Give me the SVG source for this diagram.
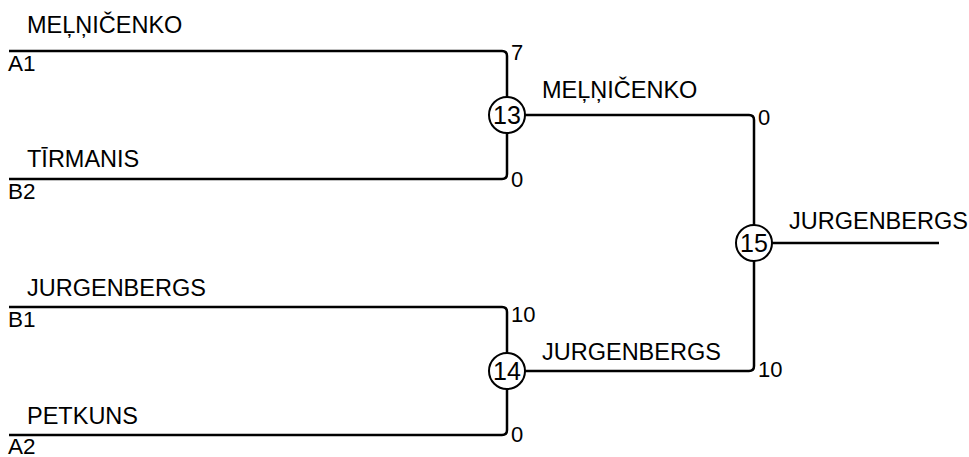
<svg xmlns="http://www.w3.org/2000/svg" width="969" height="457" viewBox="0 0 969 457">
<style>
.ln{fill:none;stroke:#000;stroke-width:2.5}
.nd{fill:#fff;stroke:#000;stroke-width:2}
text{font-family:"Liberation Sans",Arial,sans-serif;fill:#000}
.nm{font-size:23.5px}
.lb{font-size:22.5px}
.sc{font-size:22px}
.ct{font-size:25px;text-anchor:middle}
</style>
<rect width="969" height="457" fill="#fff"/>
<g id="connectors">
<path class="ln" d="M9,51 H502 Q507,51 507,56 V115"/>
<path class="ln" d="M9,179 H502 Q507,179 507,174 V115"/>
<path class="ln" d="M9,307 H502 Q507,307 507,312 V371"/>
<path class="ln" d="M9,435 H502 Q507,435 507,430 V371"/>
<path class="ln" d="M507,115 H749 Q754,115 754,120 V243"/>
<path class="ln" d="M507,371 H749 Q754,371 754,366 V243"/>
<path class="ln" d="M754,243 H939"/>
</g>
<g id="entry-a1">
<text class="nm" x="27" y="33">MEĻŅIČENKO</text>
<text class="lb" x="8" y="71">A1</text>
<text class="sc" x="511" y="60">7</text>
</g>
<g id="entry-b2">
<text class="nm" x="27" y="167">TĪRMANIS</text>
<text class="lb" x="8" y="199">B2</text>
<text class="sc" x="511" y="187">0</text>
</g>
<g id="entry-b1">
<text class="nm" x="27" y="296">JURGENBERGS</text>
<text class="lb" x="8" y="327">B1</text>
<text class="sc" x="511" y="322">10</text>
</g>
<g id="entry-a2">
<text class="nm" x="27" y="424">PETKUNS</text>
<text class="lb" x="8" y="454">A2</text>
<text class="sc" x="511" y="442">0</text>
</g>
<g id="match-13">
<circle class="nd" cx="507" cy="115" r="18"/>
<text class="ct" x="507" y="124">13</text>
<text class="nm" x="542" y="98">MEĻŅIČENKO</text>
<text class="sc" x="758" y="125">0</text>
</g>
<g id="match-14">
<circle class="nd" cx="507" cy="371" r="18"/>
<text class="ct" x="507" y="380">14</text>
<text class="nm" x="542" y="360">JURGENBERGS</text>
<text class="sc" x="758" y="377">10</text>
</g>
<g id="match-15">
<circle class="nd" cx="754" cy="243" r="18"/>
<text class="ct" x="754" y="252">15</text>
<text class="nm" x="789" y="229">JURGENBERGS</text>
</g>
</svg>
